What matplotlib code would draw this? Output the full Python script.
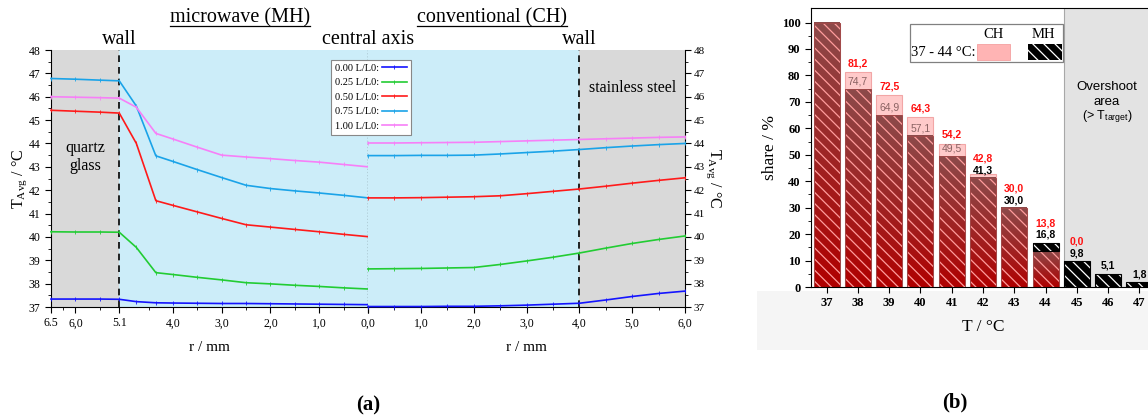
import numpy as np
import matplotlib
matplotlib.use('Agg')
import matplotlib.pyplot as plt
from matplotlib.patches import Rectangle
from matplotlib.lines import Line2D
from matplotlib.colors import LinearSegmentedColormap

W, H = 1148, 419

plt.rcParams['font.family'] = 'Liberation Serif'
plt.rcParams['mathtext.fontset'] = 'custom'
plt.rcParams['mathtext.rm'] = 'Liberation Serif'
plt.rcParams['mathtext.it'] = 'Liberation Serif:italic'
plt.rcParams['mathtext.sf'] = 'Liberation Sans'
plt.rcParams['hatch.linewidth'] = 0.9

# ---- panel (a) data: temperature profiles along the radius ----
r_mh = [6.5, 6.0, 5.5, 5.1, 4.75, 4.35, 4.0, 3.5, 3.0, 2.5, 2.0, 1.5, 1.0, 0.5, 0.0]
r_ch = [0.0, 0.5, 1.0, 1.5, 2.0, 2.5, 3.0, 3.5, 4.0, 4.5, 5.0, 5.5, 6.0]

labels_a = ['0.00 L/L0:', '0.25 L/L0:', '0.50 L/L0:', '0.75 L/L0:', '1.00 L/L0:']
colors_a = ['#1414ff', '#22cc33', '#ff1a1a', '#1aa3e8', '#f77ff7']

mh_000 = [37.34, 37.34, 37.34, 37.33, 37.23, 37.18, 37.17, 37.16, 37.15, 37.15, 37.14, 37.13, 37.12, 37.11, 37.10]
mh_025 = [40.22, 40.21, 40.21, 40.20, 39.55, 38.47, 38.39, 38.27, 38.16, 38.04, 37.99, 37.93, 37.88, 37.82, 37.77]
mh_050 = [45.42, 45.38, 45.34, 45.30, 44.00, 41.55, 41.35, 41.07, 40.79, 40.52, 40.42, 40.32, 40.22, 40.11, 40.01]
mh_075 = [46.78, 46.75, 46.71, 46.68, 45.60, 43.47, 43.23, 42.88, 42.54, 42.21, 42.07, 41.97, 41.88, 41.78, 41.67]
mh_100 = [46.00, 45.98, 45.96, 45.94, 45.55, 44.43, 44.19, 43.84, 43.50, 43.42, 43.35, 43.27, 43.20, 43.10, 43.00]

ch_000 = [37.02, 37.02, 37.02, 37.03, 37.03, 37.05, 37.08, 37.12, 37.16, 37.30, 37.45, 37.58, 37.68]
ch_025 = [38.63, 38.64, 38.65, 38.67, 38.69, 38.82, 38.97, 39.13, 39.31, 39.52, 39.72, 39.89, 40.04]
ch_050 = [41.67, 41.67, 41.68, 41.70, 41.72, 41.76, 41.85, 41.95, 42.05, 42.17, 42.30, 42.42, 42.53]
ch_075 = [43.48, 43.48, 43.49, 43.49, 43.50, 43.55, 43.61, 43.67, 43.74, 43.82, 43.89, 43.95, 44.00]
ch_100 = [44.02, 44.02, 44.03, 44.04, 44.05, 44.08, 44.11, 44.14, 44.17, 44.20, 44.23, 44.26, 44.28]

mh_series = [mh_000, mh_025, mh_050, mh_075, mh_100]
ch_series = [ch_000, ch_025, ch_050, ch_075, ch_100]

# ---- panel (b) data: share per temperature ----
temps = [37, 38, 39, 40, 41, 42, 43, 44, 45, 46, 47]
share_ch = [100, 81.2, 72.5, 64.3, 54.2, 42.8, 30.0, 13.8, 0.0, None, None]
share_mh = [100, 74.7, 64.9, 57.1, 49.5, 41.3, 30.0, 16.8, 9.8, 5.1, 1.8]


def fx(x):
    return x / W


def fy(y):
    return 1 - y / H


fig = plt.figure(figsize=(W / 100, H / 100), dpi=100)

blue_bg = '#ccedf9'
gray_bg = '#d9d9d9'

axL = fig.add_axes([fx(51), fy(307), 317 / W, 257 / H])
axR = fig.add_axes([fx(368), fy(307), 317 / W, 257 / H])

axL.set_xlim(6.5, 0)
axR.set_xlim(0, 6)
for ax in (axL, axR):
    ax.set_ylim(37, 48)
    ax.spines['top'].set_visible(False)
    ax.set_yticks(np.arange(37, 49, 1))
    ax.set_yticks(np.arange(37, 48.01, 0.5), minor=True)
    ax.tick_params(which='major', direction='out', length=4, width=0.8, labelsize=8.5)
    ax.tick_params(which='minor', direction='out', length=2.5, width=0.6)
axR.tick_params(axis='y', which='major', labelsize=8, pad=2)

axL.axvspan(6.5, 5.1, color=gray_bg, zorder=0, lw=0)
axL.axvspan(5.1, 0, color=blue_bg, zorder=0, lw=0)
axR.axvspan(0, 4, color=blue_bg, zorder=0, lw=0)
axR.axvspan(4, 6, color=gray_bg, zorder=0, lw=0)
axL.axvline(5.1, color='k', ls=(0, (4, 3)), lw=1.2, zorder=2)
axR.axvline(4.0, color='k', ls=(0, (4, 3)), lw=1.2, zorder=2)
axL.axvline(0.0, color='k', ls=(0, (1, 1.5)), lw=0.9, zorder=2)

axL.spines['right'].set_visible(False)
axR.spines['left'].set_visible(False)
axR.yaxis.tick_right()
axR.yaxis.set_label_position('right')

axL.set_xticks([6.5, 6.0, 5.1, 4.0, 3.0, 2.0, 1.0, 0.0])
axL.set_xticklabels(['6.5', '6,0', '5.1', '4,0', '3,0', '2,0', '1,0', '0,0'])
axL.set_xticks([6.25, 5.5, 4.5, 3.5, 2.5, 1.5, 0.5], minor=True)
axR.set_xticks([0, 1, 2, 3, 4, 5, 6])
axR.set_xticklabels(['', '1,0', '2,0', '3,0', '4,0', '5,0', '6,0'])
axR.set_xticks([0.5, 1.5, 2.5, 3.5, 4.5, 5.5], minor=True)

handles = []
for vals, col, lab in zip(mh_series, colors_a, labels_a):
    h, = axL.plot(r_mh, vals, color=col, lw=1.2, marker='|', ms=2.5, mew=0.6,
                  label=lab, zorder=3, clip_on=False)
    handles.append(h)
for vals, col in zip(ch_series, colors_a):
    axR.plot(r_ch, vals, color=col, lw=1.2, marker='|', ms=2.5, mew=0.6,
             zorder=3, clip_on=False)

axL.set_ylabel('T$_{\\mathrm{Avg}}$ / °C', fontsize=11.5, labelpad=0)
axR.set_ylabel('T$_{\\mathrm{Avg}}$ / °C', fontsize=11.5, rotation=270, labelpad=13)
axL.set_xlabel('r / mm', fontsize=11, labelpad=8)
axR.set_xlabel('r / mm', fontsize=11, labelpad=8)

leg = fig.legend(handles, labels_a, loc='upper left', bbox_to_anchor=(fx(331), fy(60)),
                 fontsize=7.5, markerfirst=False, frameon=True, fancybox=False,
                 edgecolor='#888888', framealpha=1, handlelength=2.4,
                 borderpad=0.35, labelspacing=0.5, handletextpad=0.3, borderaxespad=0)
leg.get_frame().set_linewidth(0.8)

heads = [fig.text(fx(240), fy(18), 'microwave (MH)', fontsize=14.5, ha='center', va='center'),
         fig.text(fx(492), fy(18), 'conventional (CH)', fontsize=14.5, ha='center', va='center')]
fig.text(fx(119), fy(40), 'wall', fontsize=14.5, ha='center', va='center')
fig.text(fx(368), fy(40), 'central axis', fontsize=14.5, ha='center', va='center')
fig.text(fx(579), fy(40), 'wall', fontsize=14.5, ha='center', va='center')
fig.text(fx(85), fy(157), 'quartz\nglass', fontsize=11.5, ha='center', va='center', linespacing=1.15)
fig.text(fx(633), fy(88), 'stainless steel', fontsize=11.5, ha='center', va='center')
fig.text(fx(368), fy(405), '(a)', fontsize=15, ha='center', va='center', fontweight='bold')
fig.text(fx(955), fy(402), '(b)', fontsize=15, ha='center', va='center', fontweight='bold')

# underline the two headings
renderer = fig.canvas.get_renderer()
for t in heads:
    bb = t.get_window_extent(renderer)
    yline = bb.y0 + 2
    fig.add_artist(Line2D([bb.x0 / W, bb.x1 / W], [yline / H, yline / H],
                          transform=fig.transFigure, color='black', lw=0.9))

# ---- panel (b) ----
fig.add_artist(Rectangle((fx(757), fy(350)), (W - 757) / W, 59 / H, transform=fig.transFigure,
                         facecolor='#f5f5f5', edgecolor='none', zorder=-1))

axB = fig.add_axes([fx(811), fy(287), (1155 - 811) / W, 279 / H])
axB.set_xlim(36.5, 47.5)
axB.set_ylim(0, 105.5)
axB.axvspan(44.58, 47.5, color='#e3e3e3', zorder=0, lw=0)
axB.axvline(44.58, color='#a8a8a8', lw=0.8, zorder=0.5)

bw = 0.83
grad_cmap = LinearSegmentedColormap.from_list('redgrad', ['#b00000', '#8c4a4a'])
grad = np.linspace(0, 1, 128).reshape(-1, 1)

for t, c, m in zip(temps, share_ch, share_mh):
    if c is not None and c > 0:
        axB.bar(t, c, bw, color='#ffcaca', edgecolor='#f2a6a6', lw=0.8, zorder=1)
    low = min(c, m) if c is not None else 0
    if low > 0:
        axB.imshow(grad, cmap=grad_cmap, extent=[t - bw / 2, t + bw / 2, 0, low],
                   origin='lower', aspect='auto', zorder=2, interpolation='bilinear')
        axB.bar(t, low, bw, facecolor='none', edgecolor='#ff9c9c', hatch='\\\\\\', lw=0, zorder=3)
        axB.bar(t, low, bw, facecolor='none', edgecolor='#a04848', lw=0.7, zorder=3.5)
    if m > low:
        axB.bar(t, m - low, bw, bottom=low, color='black', edgecolor='white', hatch='\\\\\\', lw=0, zorder=3)
        axB.bar(t, m - low, bw, bottom=low, facecolor='none', edgecolor='black', lw=0.8, zorder=3.5)

axB.set_xlim(36.5, 47.5)
axB.set_ylim(0, 105.5)


def fmt(v):
    return ('%.1f' % v).replace('.', ',')


for t, c, m in zip(temps, share_ch, share_mh):
    y_m = m + 1.0
    if t > 37:
        inside = c is not None and c - m > 4
        axB.text(t, y_m, fmt(m), ha='center', va='bottom', fontsize=7.5,
                 family='Liberation Sans',
                 fontweight='normal' if inside else 'bold',
                 color='#8a6262' if inside else 'black', zorder=5)
    if c is not None and t > 37:
        y_c = max(c + 1.4, y_m + 4.4)
        axB.text(t, y_c, fmt(c), ha='center', va='bottom', fontsize=7.5,
                 family='Liberation Sans', fontweight='bold', color='#ff1010', zorder=5)

axB.set_xticks(temps)
axB.set_yticks(np.arange(0, 101, 10))
axB.set_yticks(np.arange(5, 101, 10), minor=True)
axB.tick_params(which='major', direction='out', length=4, width=0.8, labelsize=9)
axB.tick_params(which='minor', direction='out', length=2.5, width=0.6)
for lab in axB.get_xticklabels() + axB.get_yticklabels():
    lab.set_fontweight('bold')
axB.set_ylabel('share / %', fontsize=12.5, labelpad=3)
axB.set_xlabel('T / °C', fontsize=12.5, labelpad=7)

fig.text(fx(1107), fy(87), 'Overshoot', fontsize=9.5, family='Liberation Sans', ha='center', va='center')
fig.text(fx(1107), fy(102), 'area', fontsize=9.5, family='Liberation Sans', ha='center', va='center')
fig.text(fx(1107), fy(117), '(> T$_{\\mathsf{target}}$)', fontsize=9, family='Liberation Sans',
         ha='center', va='center')

# legend box of panel (b)
fig.add_artist(Rectangle((fx(910), fy(62)), 153 / W, 38 / H, transform=fig.transFigure,
                         facecolor='white', edgecolor='#808080', lw=0.9, zorder=5))
fig.add_artist(Rectangle((fx(977), fy(60)), 33 / W, 16 / H, transform=fig.transFigure,
                         facecolor='#ffb4b4', edgecolor='#f4a0a0', lw=0.6, zorder=6))
fig.add_artist(Rectangle((fx(1028), fy(60)), 34 / W, 16 / H, transform=fig.transFigure,
                         facecolor='black', edgecolor='white', hatch='\\\\\\', lw=0, zorder=6))
fig.text(fx(993), fy(34), 'CH', fontsize=10.5, ha='center', va='center', zorder=7)
fig.text(fx(1043), fy(34), 'MH', fontsize=10.5, ha='center', va='center', zorder=7)
fig.text(fx(911), fy(53), '37 - 44 °C:', fontsize=10.5, ha='left', va='center', zorder=7)

fig.savefig('out.png', dpi=100)
